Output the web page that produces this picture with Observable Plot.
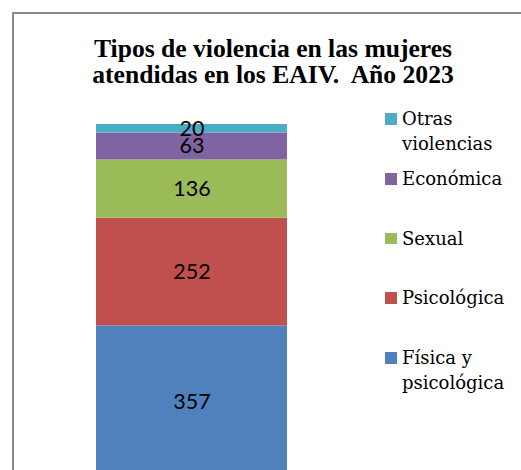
<!DOCTYPE html>
<html>
<head>
<meta charset="utf-8">
<script src="https://cdn.jsdelivr.net/npm/d3@7"></script>
<script src="https://cdn.jsdelivr.net/npm/@observablehq/plot@0.6"></script>
<style>
  html, body { margin: 0; padding: 0; overflow: hidden; background: #fff; }
  #wrap { position: relative; width: 521px; height: 470px; overflow: hidden; background: #fff; }
  #frame { position: absolute; left: 12px; top: 12px; width: 600px; height: 600px; border: 2px solid #898989; box-sizing: border-box; pointer-events: none; }
  #title { position: absolute; left: 0; top: 35.5px; width: 546px; text-align: center; font-family: "Liberation Serif", serif; font-weight: bold; font-size: 25.6px; line-height: 26.3px; color: #000; white-space: pre; }
  #chart { position: absolute; left: 0; top: 0; }
  .lg { position: absolute; left: 385px; font-family: "DejaVu Serif", serif; font-size: 18px; line-height: 24.5px; color: #000; }
  .lg .sw { position: absolute; left: 0; top: 6px; width: 11.5px; height: 11.5px; }
  .lg .tx { position: absolute; left: 17px; top: 0; width: 118px; }
</style>
</head>
<body>
<div id="wrap">
  <div id="chart"></div>
  <div id="title"></div>
  <div id="legend"></div>
  <div id="frame"></div>
</div>
<script>
// Data (stack order: bottom to top)
const categories = ["Física y psicológica", "Psicológica", "Sexual", "Económica", "Otras violencias"];
const values = [357, 252, 136, 63, 20];
const colors = ["#4F81BD", "#C0504D", "#9BBB59", "#8064A2", "#4BACC6"];
const titleLines = ["Tipos de violencia en las mujeres", "atendidas en los EAIV.  Año 2023"];
const group = "2023";

const data = categories.map((c, i) => ({group, tipo: c, value: values[i]}));
const total = d3.sum(values);

document.getElementById("title").textContent = titleLines.join("\n");

const chart = Plot.plot({
  width: 521,
  height: 500,
  marginLeft: 96,
  marginRight: 234,
  marginTop: 124,
  marginBottom: 22,
  style: {background: "transparent", overflow: "visible"},
  x: {domain: [group], padding: 0, axis: null},
  y: {domain: [0, total], axis: null},
  color: {domain: categories, range: colors},
  marks: [
    Plot.barY(data, Plot.stackY({x: "group", y: "value", fill: "tipo", order: null})),
    Plot.text(data, Plot.stackY({x: "group", y: "value", text: "value", order: null,
      fill: "black", fontSize: 21.5, fontFamily: "Lato, sans-serif", lineAnchor: "middle"}))
  ]
});
document.getElementById("chart").appendChild(chart);

// Legend (top to bottom = reverse of stack order)
const legend = document.getElementById("legend");
const legendOrder = categories.map((c, i) => i).reverse();
legendOrder.forEach((idx, k) => {
  const item = document.createElement("div");
  item.className = "lg";
  item.style.top = (107.3 + k * 59.7) + "px";
  const sw = document.createElement("div");
  sw.className = "sw";
  sw.style.background = colors[idx];
  const tx = document.createElement("div");
  tx.className = "tx";
  tx.textContent = categories[idx];
  item.appendChild(sw);
  item.appendChild(tx);
  legend.appendChild(item);
});
</script>
</body>
</html>
